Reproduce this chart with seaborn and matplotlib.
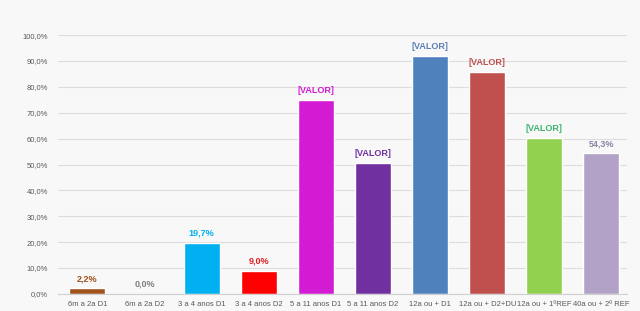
import matplotlib
matplotlib.use("Agg")
import matplotlib.pyplot as plt
import seaborn as sns
import pandas as pd

categories = ["6m a 2a D1", "6m a 2a D2", "3 a 4 anos D1", "3 a 4 anos D2",
              "5 a 11 anos D1", "5 a 11 anos D2", "12a ou + D1", "12a ou + D2+DU",
              "12a ou + 1ºREF", "40a ou + 2º REF"]
values = [2.2, 0.0, 19.7, 9.0, 74.8, 50.5, 92.0, 85.8, 60.3, 54.3]
labels = ["2,2%", "0,0%", "19,7%", "9,0%", "[VALOR]", "[VALOR]", "[VALOR]", "[VALOR]", "[VALOR]", "54,3%"]
bar_colors = ["#A0521C", "#A6A6A6", "#00B0F0", "#FF0000", "#D41BD4", "#7030A0",
              "#4F81BD", "#C0504D", "#92D050", "#B3A2C7"]
label_colors = ["#A0521C", "#7F7F7F", "#00B0F0", "#E02020", "#D41BD4", "#7030A0",
                "#5B7FB5", "#C0504D", "#3CB371", "#8C7FA6"]
yticks = [0, 10, 20, 30, 40, 50, 60, 70, 80, 90, 100]

sns.set_style("white")
plt.rcParams['font.family'] = ['Liberation Sans', 'DejaVu Sans']

df = pd.DataFrame({"cat": categories, "val": values})

fig = plt.figure(figsize=(6.4, 3.11), dpi=100)
fig.patch.set_facecolor("#F8F8F8")
ax = fig.add_axes([0.09, 0.055, 0.89, 0.832])
ax.set_facecolor("#F8F8F8")

sns.barplot(data=df, x="cat", y="val", hue="cat", palette=bar_colors,
            legend=False, width=0.63, ax=ax, saturation=1)

for i, (v, lab, c) in enumerate(zip(values, labels, label_colors)):
    ax.text(i, v + 2.0, lab, ha="center", va="bottom", fontsize=6.5,
            color=c, fontweight="bold")

ax.set_ylim(0, 100)
ax.set_xlim(-0.52, 9.45)
ax.set_yticks(yticks)
ax.set_yticklabels([f"{t:.1f}%".replace(".", ",") for t in yticks], fontsize=5.5, color="#595959")
ax.set_xticks(range(len(categories)))
ax.set_xticklabels(categories, fontsize=5.5, color="#595959")
ax.tick_params(axis="both", length=0, pad=7)
ax.tick_params(axis="x", pad=5)
ax.yaxis.grid(True, color="#DDDDDD", linewidth=0.8)
ax.set_axisbelow(True)
for s in ["top", "right", "left"]:
    ax.spines[s].set_visible(False)
ax.spines["bottom"].set_color("#D0D0D0")
ax.set_xlabel("")
ax.set_ylabel("")

fig.savefig("out.png", dpi=100, facecolor=fig.get_facecolor())
